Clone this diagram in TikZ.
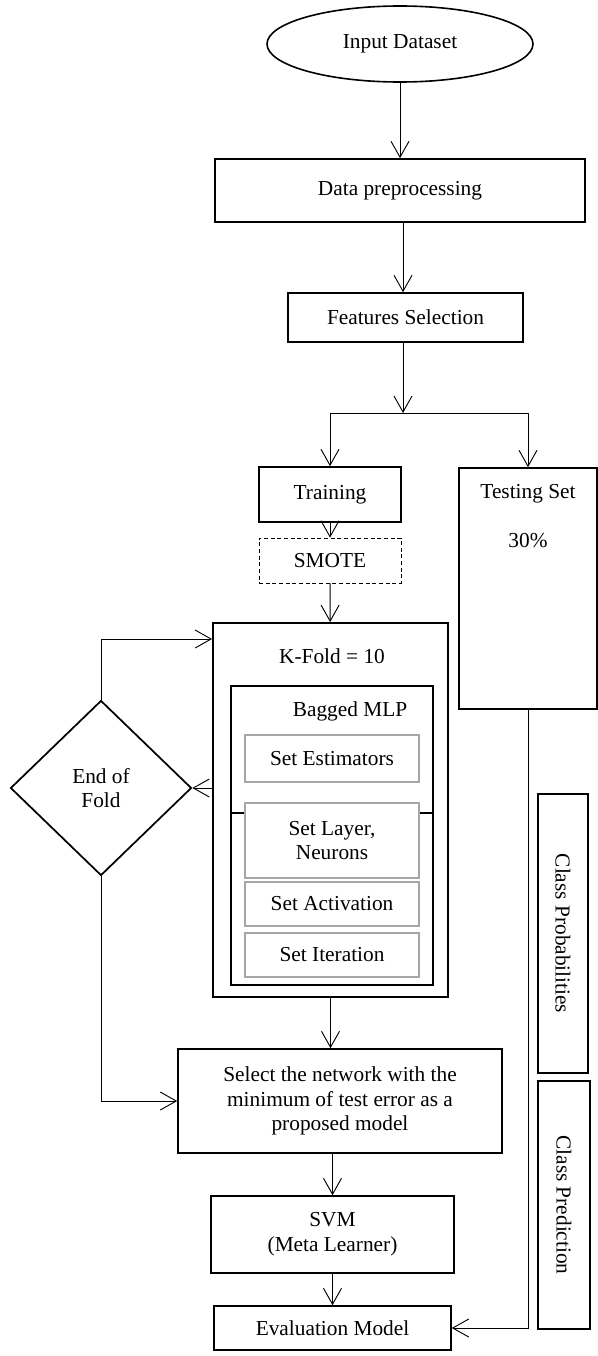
\documentclass[tikz,border=0pt]{standalone}
\usepackage{fontspec}
\setmainfont{Liberation Serif}
\usetikzlibrary{shapes.geometric, arrows.meta}
\tikzset{
	box/.style={rectangle, draw, line width=1.2pt, align=center, inner sep=2pt},
	frame/.style={rectangle, draw, line width=1.4pt},
	arrow/.style={-{Straight Barb[length=12pt, width=13.5pt]}, line width=0.7pt}
}

\begin{document}
\begin{tikzpicture}[
		x=0.75pt, y=-0.75pt,
		font=\fontsize{16}{18.5}\selectfont,
		setbox/.style={draw=black!35, line width=0.8pt, fill=white, minimum width=130.5pt, align=center},
		sidebox/.style={box, rotate=-90}
		]
		\useasboundingbox (0,0) rectangle (598,1356);

		\node[draw, ellipse, line width=1.2pt, minimum width=199.5pt, minimum height=57pt] (input) at (400,44) {Input Dataset};
		\node[box, minimum width=277.5pt, minimum height=47.25pt] (prep) at (400,190.5) {Data preprocessing};
		\node[box, minimum width=176.25pt, minimum height=36.75pt] (feat) at (405.5,317.5) {Features Selection};
		\coordinate (split) at (403,413);

		\node[box, minimum width=106.5pt, minimum height=41.25pt] (train) at (330,494.5) {Training};
		\node[draw, densely dashed, line width=0.5pt, minimum width=106.5pt, minimum height=33.75pt] (smote) at (330,560.5) {SMOTE};
		\node[box, inner sep=0pt, minimum width=103.5pt, minimum height=180.75pt] (test) at (528,588.5)
			{\parbox[c][180pt][t]{100pt}{\centering\vspace{12pt}Testing Set\\[18.25pt]30\%}};

		% cross validation loop
		\node[frame, minimum width=176.25pt, minimum height=280.5pt] (kfold) at (330.5,810) {};
		\node (kflbl) at (332,656) {K-Fold = 10};
		\node[frame, minimum width=151.5pt, minimum height=224.25pt] (bag) at (332,835.5) {};
		\node (baglbl) at (350,711) {Bagged MLP};
		\draw[line width=1.4pt] (bag.west |- 0,813) -- (bag.east |- 0,813);
		\node[setbox, minimum height=35.25pt] (est) at (332,758.5) {Set Estimators};
		\node[setbox, minimum height=56.25pt] (lay) at (332,840.5) {Set Layer,\\Neurons};
		\node[setbox, minimum height=33pt] (act) at (332,904) {Set Activation};
		\node[setbox, minimum height=33pt] (iter) at (332,955) {Set Iteration};

		\node[draw, diamond, line width=1.3pt, aspect=1.03, inner sep=0pt, minimum width=135.75pt, minimum height=131.25pt, align=center] (fold) at (101,788) {End of\\Fold};
		\coordinate (kin) at (kfold.west |- 0,639);

		\node[box, minimum width=243pt, minimum height=78pt] (sel) at (340,1101) {Select the network with the\\minimum of test error as a\\proposed model};
		\node[box, minimum width=182.25pt, minimum height=57.75pt] (svm) at (332.5,1234.5) {SVM\\(Meta Learner)};
		\node[box, minimum width=177.75pt, minimum height=33pt] (eval) at (332.5,1328) {Evaluation Model};

		\node[sidebox, minimum width=209.25pt, minimum height=37.5pt] (prob) at (563,933.5) {Class Probabilities};
		\node[sidebox, minimum width=186pt, minimum height=39pt] (pred) at (564,1205) {Class Prediction};

		\draw[arrow] (input) -- (prep);
		\draw[arrow] (prep.south -| split) -- (feat.north -| split);
		\draw[arrow] (feat.south -| split) -- (split);
		\draw[line width=0.7pt] (split -| train) -- (split -| test);
		\draw[arrow] (split -| train) -- (train);
		\draw[arrow] (split -| test) -- (test);
		\draw[arrow] (train) -- (smote);
		\draw[arrow] (smote) -- (kfold);
		\draw[arrow] (fold.north) |- (kin);
		\draw[arrow] (kfold.west |- fold.east) -- (fold.east);
		\draw[arrow] (fold.south) |- (sel.west);
		\draw[arrow] (kfold.south) -- (kfold.south |- sel.north);
		\draw[arrow] (sel.south -| svm) -- (svm.north);
		\draw[arrow] (svm) -- (eval);
		\draw[arrow] (test.south) |- (eval.east);
	\end{tikzpicture}
\end{document}
